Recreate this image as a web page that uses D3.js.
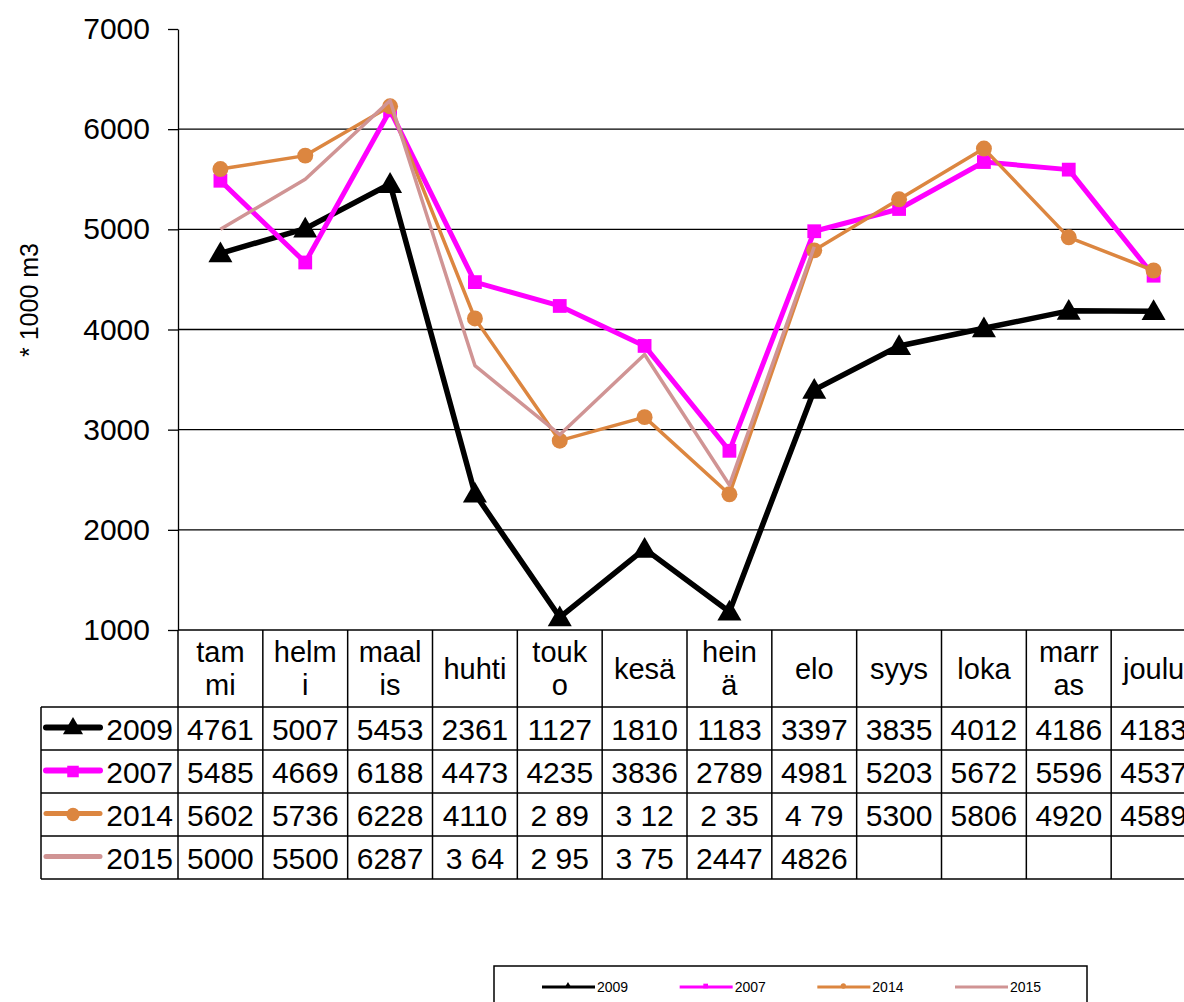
<!DOCTYPE html>
<html lang="fi">
<head>
  <meta charset="UTF-8">
  <title>Kuukausittaiset määrät</title>
  <script src="https://cdn.jsdelivr.net/npm/d3@7"></script>
  <style>
    body { margin: 0; background: #fff; }
    svg { display: block; font-family: "Liberation Sans", Arial, sans-serif; }
  </style>
</head>
<body>
<div id="chart"></div>
<script>
  // kuukaudet ja otsikkorivin rivitys
  const months = ['tammi', 'helmi', 'maalis', 'huhti', 'touko', 'kesä', 'heinä', 'elo', 'syys', 'loka', 'marras', 'joulu']
  const monthLines = [['tam', 'mi'], ['helm', 'i'], ['maal', 'is'], ['huhti'], ['touk', 'o'], ['kesä'], ['hein', 'ä'], ['elo'], ['syys'], ['loka'], ['marr', 'as'], ['joulu']]

  // sarjat
  const years = ['2009', '2007', '2014', '2015']
  const values2009 = [4761, 5007, 5453, 2361, 1127, 1810, 1183, 3397, 3835, 4012, 4186, 4183]
  const values2007 = [5485, 4669, 6188, 4473, 4235, 3836, 2789, 4981, 5203, 5672, 5596, 4537]
  const values2014 = [5602, 5736, 6228, 4110, 2890, 3125, 2355, 4790, 5300, 5806, 4920, 4589]
  const values2015 = [5000, 5500, 6287, 3640, 2950, 3750, 2447, 4826]

  // taulukon tekstit (osa numeroista näkyy kuvassa vajaina)
  const text2014 = ['5602', '5736', '6228', '4110', '2 89', '3 12', '2 35', '4 79', '5300', '5806', '4920', '4589']
  const text2015 = ['5000', '5500', '6287', '3 64', '2 95', '3 75', '2447', '4826']

  const yTicks = [1000, 2000, 3000, 4000, 5000, 6000, 7000]
  const yTitle = '* 1000 m3'

  const width = 1184
  const height = 1002
  const plot = { left: 178, top: 29, bottom: 630, right: 1196 }

  const series = [
    { name: years[0], values: values2009, texts: values2009.map(String), color: '#000000', lw: 5.5, symbol: d3.symbolTriangle, size: 250 },
    { name: years[1], values: values2007, texts: values2007.map(String), color: '#ff00ff', lw: 5, symbol: d3.symbolSquare, size: 190 },
    { name: years[2], values: values2014, texts: text2014, color: '#dc8640', lw: 3.5, symbol: d3.symbolCircle, size: 200 },
    { name: years[3], values: values2015, texts: text2015, color: '#d09494', lw: 3.5, symbol: null, size: 0 }
  ]

  const svg = d3.select('#chart').append('svg')
    .attr('width', width)
    .attr('height', height)

  const x = d3.scaleBand().domain(months).range([plot.left, plot.right])
  const y = d3.scaleLinear().domain([1000, 7000]).range([plot.bottom, plot.top])
  const cx = m => x(m) + x.bandwidth() / 2

  // vaakaviivat
  svg.append('g').selectAll('line')
    .data(yTicks.filter(t => t > 1000 && t < 7000))
    .join('line')
    .attr('x1', plot.left).attr('x2', width)
    .attr('y1', d => y(d)).attr('y2', d => y(d))
    .attr('stroke', '#000').attr('stroke-width', 1.3)

  // y-akseli
  const yAxis = d3.axisLeft(y).tickValues(yTicks).tickFormat(d3.format('d'))
    .tickSize(10).tickSizeOuter(0).tickPadding(18)
  svg.append('g')
    .attr('transform', `translate(${plot.left},0)`)
    .call(yAxis)
    .call(g => g.selectAll('line, path').attr('stroke', '#000').attr('stroke-width', 1.3))
    .call(g => g.selectAll('text').attr('font-size', 30).attr('fill', '#000').attr('font-family', '"Liberation Sans", Arial, sans-serif'))

  svg.append('text')
    .attr('transform', `translate(38,300) rotate(-90)`)
    .attr('text-anchor', 'middle')
    .attr('font-size', 25)
    .text(yTitle)

  // viivat ja merkit
  const line = d3.line().x((d, i) => cx(months[i])).y(d => y(d))
  series.forEach(s => {
    svg.append('path')
      .datum(s.values)
      .attr('d', line)
      .attr('fill', 'none')
      .attr('stroke', s.color)
      .attr('stroke-width', s.lw)
      .attr('stroke-linejoin', 'round')
    if (s.symbol) {
      svg.append('g').selectAll('path')
        .data(s.values)
        .join('path')
        .attr('d', d3.symbol(s.symbol, s.size))
        .attr('transform', (d, i) => `translate(${cx(months[i])},${y(d) + (s.symbol === d3.symbolTriangle ? 2 : 0)})`)
        .attr('fill', s.color)
    }
  })

  // datataulukko
  const rowTop = 707
  const rowH = 43
  const tableLeft = 41
  const table = svg.append('g')
  const tableEnd = rowTop + rowH * series.length

  // otsikkorivi
  months.forEach((m, i) => {
    const lines = monthLines[i]
    const mid = (plot.bottom + rowTop) / 2
    lines.forEach((t, j) => {
      table.append('text')
        .attr('x', cx(m))
        .attr('y', mid + 10 + (j - (lines.length - 1) / 2) * 33)
        .attr('text-anchor', 'middle')
        .attr('font-size', 29)
        .text(t)
    })
  })

  series.forEach((s, r) => {
    const yc = rowTop + rowH * r + rowH / 2
    s.texts.forEach((t, i) => {
      table.append('text')
        .attr('x', cx(months[i]))
        .attr('y', yc + 11)
        .attr('text-anchor', 'middle')
        .attr('font-size', 30)
        .text(t)
    })
    // selite taulukossa
    table.append('line')
      .attr('x1', 46).attr('x2', 100)
      .attr('y1', yc - 1).attr('y2', yc - 1)
      .attr('stroke', s.color)
      .attr('stroke-width', r < 2 ? 6 : 5)
      .attr('stroke-linecap', 'round')
    if (s.symbol) {
      table.append('path')
        .attr('d', d3.symbol(s.symbol, s.size * 0.7))
        .attr('transform', `translate(73,${yc})`)
        .attr('fill', s.color)
    }
    table.append('text')
      .attr('x', 173).attr('y', yc + 11)
      .attr('text-anchor', 'end')
      .attr('font-size', 30)
      .text(s.name)
  })

  // taulukon viivat
  const hLines = d3.range(series.length + 1).map(i => rowTop + rowH * i)
  table.selectAll('line.h').data(hLines).join('line')
    .attr('class', 'h')
    .attr('x1', tableLeft).attr('x2', width)
    .attr('y1', d => d).attr('y2', d => d)
    .attr('stroke', '#000').attr('stroke-width', 1.5)
  table.append('line')
    .attr('x1', plot.left).attr('x2', width)
    .attr('y1', plot.bottom).attr('y2', plot.bottom)
    .attr('stroke', '#000').attr('stroke-width', 1.5)
  table.selectAll('line.v').data(months).join('line')
    .attr('class', 'v')
    .attr('x1', d => x(d)).attr('x2', d => x(d))
    .attr('y1', plot.bottom).attr('y2', tableEnd)
    .attr('stroke', '#000').attr('stroke-width', 1.5)
  table.append('line')
    .attr('x1', tableLeft).attr('x2', tableLeft)
    .attr('y1', rowTop).attr('y2', tableEnd)
    .attr('stroke', '#000').attr('stroke-width', 1.5)

  // selite
  const legend = svg.append('g')
  legend.append('rect')
    .attr('x', 494).attr('y', 966)
    .attr('width', 593).attr('height', 60)
    .attr('fill', '#fff').attr('stroke', '#000').attr('stroke-width', 1.5)
  const legendX = d3.scalePoint().domain(years).range([542, 955])
  series.forEach(s => {
    const lx = legendX(s.name)
    legend.append('line')
      .attr('x1', lx).attr('x2', lx + 53)
      .attr('y1', 987).attr('y2', 987)
      .attr('stroke', s.color).attr('stroke-width', 3)
    if (s.symbol) {
      legend.append('path')
        .attr('d', d3.symbol(s.symbol, 22))
        .attr('transform', `translate(${lx + 26},986)`)
        .attr('fill', s.color)
    }
    legend.append('text')
      .attr('x', lx + 55).attr('y', 992)
      .attr('font-size', 14)
      .text(s.name)
  })
</script>
</body>
</html>
